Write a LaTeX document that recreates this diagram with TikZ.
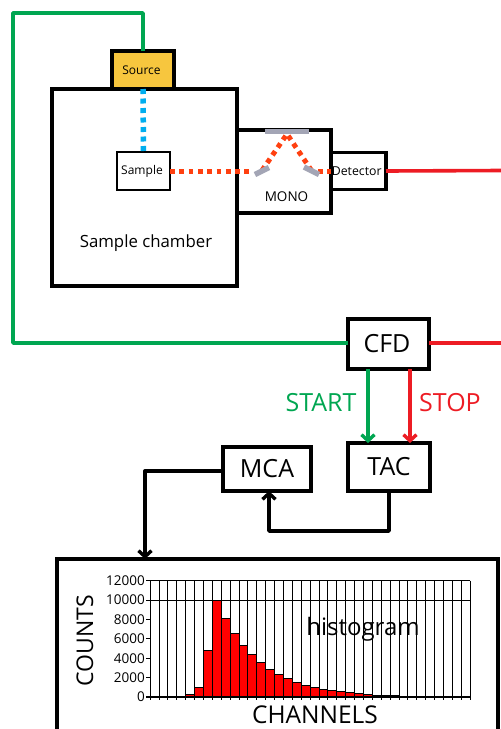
\documentclass[tikz,border=0pt]{standalone}
\usepackage{fontspec}
\setmainfont{Open Sans}
\usetikzlibrary{arrows.meta,calc}
\definecolor{grn}{HTML}{00A651}
\definecolor{rd}{HTML}{ED1C24}
\definecolor{blu}{HTML}{00AEEF}
\definecolor{org}{HTML}{FF4010}
\definecolor{gold}{HTML}{F7C63E}
\definecolor{mir}{HTML}{A3A5B5}
\tikzset{
 x=1pt,y=-1pt,
 box/.style={draw=black,line width=3.2pt,fill=white,inner sep=0pt,outer sep=0pt,text=black},
 wire/.style={line width=3.6pt,line join=round},
 sig/.style={line width=3.4pt,line join=round,-{Straight Barb[length=6pt,width=13pt]}},
 dotb/.style={blu,line width=5.5pt,dash pattern=on 5pt off 4.5pt},
 doto/.style={org,line width=5pt,dash pattern=on 4.8pt off 4.5pt},
 mirror/.style={mir,line width=5.5pt},
 bar/.style={draw=black,line width=.7pt,fill=red},
 gridl/.style={black,line width=.7pt},
 big/.style={font=\fontsize{25}{28}\selectfont},
 tick/.style={anchor=east,inner sep=0pt,font=\fontsize{13.5}{15}\selectfont},
 small/.style={font=\fontsize{12}{14}\selectfont},
}
\begin{document}
\begin{tikzpicture}
\useasboundingbox (0,0) rectangle (501,729);
\clip (0,0) rectangle (501,729);
% boxes
\node[box,minimum width=185pt,minimum height=197pt] (chamber) at (144.5,187.5) {};
\node[font=\fontsize{16.8}{20}\selectfont] (chlabel) at (146,243) {Sample chamber};
\node[box,small,fill=gold,minimum width=62pt,minimum height=38pt] (source) at (143,70) {\raisebox{-1pt}{\hspace*{-3pt}Source}};
\node[box,small,line width=1.5pt,minimum width=53pt,minimum height=38pt] (sample) at (143.5,171) {\hspace*{-3pt}Sample};
\node[box,minimum width=94pt,minimum height=83pt] (mono) at (284,171.5) {};
\node[font=\fontsize{13.5}{16}\selectfont] (monolabel) at (286.5,196.5) {MONO};
\node[box,font=\fontsize{12.3}{14}\selectfont,minimum width=55pt,minimum height=37pt] (detector) at (358.5,171) {\hspace*{-3.5pt}Detector};
\node[box,big,minimum width=81pt,minimum height=50pt] (cfd) at (388.5,344) {\hspace*{-3pt}CFD};
\node[box,big,minimum width=82pt,minimum height=48pt] (tac) at (389,467) {TAC};
\node[box,big,minimum width=88pt,minimum height=44pt] (mca) at (267,469) {MCA};
\node[box,minimum width=441pt,minimum height=200pt] (hist) at (277.5,659) {};
% monochromator optics
\coordinate (m1) at (262,170.5);
\coordinate (m2) at (287,134);
\coordinate (m3) at (311.5,170.5);
\coordinate (sin) at (253,171);
\coordinate (sout) at (318,171);
\draw[doto] (sample.east) -- (sin);
\draw[doto] (m1) -- (m2) -- (m3);
\draw[doto] (sout) -- (detector.west);
\draw[mirror] (255,174.5) -- (269,167.5);
\draw[mirror] (304,167) -- (319,174.5);
\draw[mirror] (265,131.5) -- (309,131.5);
\draw[dotb] (chamber.north -| source) -- (sample.north);
% wires
\coordinate (gA) at (143,13);
\coordinate (gB) at (13,13);
\coordinate (gC) at (13,343);
\coordinate (rA) at (501,170.5);
\coordinate (rB) at (501,343);
\draw[grn,wire] (source.north) -- (gA) -- (gB) -- (gC) -- (cfd.west |- gC);
\draw[rd,wire] (detector.east) -- (rA);
\draw[rd,wire] (cfd.east |- rB) -- (rB);
\coordinate (st) at (368,369);
\coordinate (sp) at (410,369);
\draw[grn,sig] (st) -- (st |- tac.north);
\draw[rd,sig] (sp) -- (sp |- tac.north);
\node[big,text=grn] (start) at (321,403) {START};
\node[big,text=rd] (stop) at (450,403) {STOP};
\coordinate (ta) at (389,531);
\coordinate (tb) at (269,531);
\draw[sig] (tac.south -| ta) -- (ta) -- (tb) -- (tb |- mca.south);
\coordinate (ma) at (145,471);
\draw[sig] (mca.west |- ma) -- (ma) -- (ma |- hist.north);
% chart
\def\xo{150}\def\bw{8.89}\def\yo{697}\def\ys{0.00970}
\foreach \i in {0,...,36}{
  \draw[gridl] ({\xo+\i*\bw},580.7) -- ({\xo+\i*\bw},700);
}
\draw[gridl] (146,580.7) -- (470,580.7);
\foreach \i/\v in {4/250,5/1000,6/4800,7/10000,8/8100,9/6600,10/5350,11/4350,12/3550,13/2850,14/2300,15/1930,16/1550,17/1240,18/1000,19/830,20/690,21/550,22/450,23/345,24/275,25/200,26/170,27/135,28/100,29/80,30/60,31/45,32/35,33/25,34/20,35/15}{
  \draw[bar] ({\xo+\i*\bw},\yo) rectangle ({\xo+(\i+1)*\bw},{\yo-\v*\ys});
}
\draw[gridl,line width=1pt] (146,600) -- (470,600);
\draw[gridl,line width=1.2pt] (146,697) -- (470,697);
\foreach \v in {0,2000,...,12000}{
  \draw[gridl] (146,{\yo-\v*\ys}) -- (150,{\yo-\v*\ys});
  \node[tick] at (145,{\yo-\v*\ys}) {\v};
}
\node[font=\fontsize{23}{26}\selectfont] (counts) at (85,640.5) [rotate=90] {COUNTS};
\node[font=\fontsize{24.5}{28}\selectfont] (channels) at (315,714.5) {CHANNELS};
\node[font=\fontsize{24}{28}\selectfont] (histo) at (363,629) {histogram};
\end{tikzpicture}
\end{document}
